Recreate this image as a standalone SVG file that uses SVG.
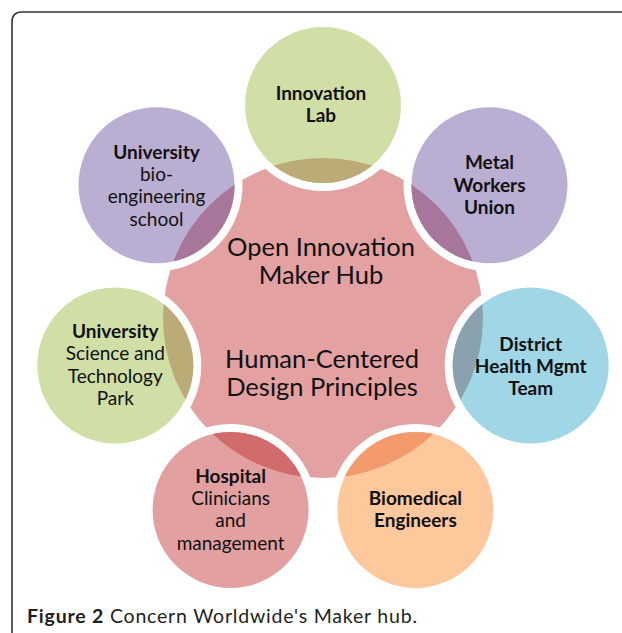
<svg xmlns="http://www.w3.org/2000/svg" width="622" height="633" viewBox="0 0 622 633">
<style>
  .ring { fill: none; stroke: #ffffff; stroke-width: 8; }
  .t { font-family: Lato, "Liberation Sans", sans-serif; font-size: 19px; fill: #111; text-anchor: middle; }
  .b { font-weight: bold; }
  .hubt { font-family: Lato, "Liberation Sans", sans-serif; font-size: 25.5px; fill: #111; text-anchor: middle; }
  .cap { font-family: Lato, "Liberation Sans", sans-serif; font-size: 19.5px; letter-spacing: 0.8px; fill: #231f20; }
</style>
<defs>
  <circle id="hubShape" cx="323" cy="318" r="160"/>
  <clipPath id="hubClip"><use href="#hubShape"/></clipPath>
</defs>
<rect width="622" height="633" fill="#ffffff"/>
<path d="M12,633 V22 Q12,12 22,12 H622" fill="none" stroke="#333" stroke-width="1.6"/>

<g id="hub">
  <use href="#hubShape" fill="#e3a2a1"/>
  <text class="hubt" x="321" y="256">Open Innovation</text>
  <text class="hubt" x="321" y="284">Maker Hub</text>
  <text class="hubt" x="322" y="368">Human-Centered</text>
  <text class="hubt" x="322" y="396">Design Principles</text>
</g>

<g id="innovation-lab">
  <circle class="ring" cx="323" cy="105" r="82"/>
  <circle cx="323" cy="105" r="78" fill="#cfdfa6"/>
  <circle cx="323" cy="105" r="78" fill="#bbab76" clip-path="url(#hubClip)"/>
  <text class="t b" x="321" y="100">Innovation</text>
  <text class="t b" x="321" y="122">Lab</text>
</g>

<g id="metal-workers-union">
  <circle class="ring" cx="489.5" cy="185.2" r="82"/>
  <circle cx="489.5" cy="185.2" r="78" fill="#bbaed3"/>
  <circle cx="489.5" cy="185.2" r="78" fill="#a8769a" clip-path="url(#hubClip)"/>
  <text class="t b" x="489.5" y="169">Metal</text>
  <text class="t b" x="489.5" y="192">Workers</text>
  <text class="t b" x="489.5" y="214">Union</text>
</g>

<g id="district-health">
  <circle class="ring" cx="530.7" cy="365.4" r="82"/>
  <circle cx="530.7" cy="365.4" r="78" fill="#a1d6e6"/>
  <circle cx="530.7" cy="365.4" r="78" fill="#8ba2ae" clip-path="url(#hubClip)"/>
  <text class="t b" x="530.7" y="351">District</text>
  <text class="t b" x="530.7" y="373">Health Mgmt</text>
  <text class="t b" x="530.7" y="395">Team</text>
</g>

<g id="biomedical-engineers">
  <circle class="ring" cx="415.4" cy="509.9" r="82"/>
  <circle cx="415.4" cy="509.9" r="78" fill="#fdc99c"/>
  <circle cx="415.4" cy="509.9" r="78" fill="#f29a6b" clip-path="url(#hubClip)"/>
  <text class="t b" x="415.4" y="505">Biomedical</text>
  <text class="t b" x="415.4" y="527">Engineers</text>
</g>

<g id="hospital">
  <circle class="ring" cx="230.6" cy="509.9" r="82"/>
  <circle cx="230.6" cy="509.9" r="78" fill="#e2a0a1"/>
  <circle cx="230.6" cy="509.9" r="78" fill="#d06a6b" clip-path="url(#hubClip)"/>
  <text class="t b" x="230.6" y="483">Hospital</text>
  <text class="t" x="230.6" y="505">Clinicians</text>
  <text class="t" x="230.6" y="527">and</text>
  <text class="t" x="230.6" y="550">management</text>
</g>

<g id="science-park">
  <circle class="ring" cx="115.3" cy="365.4" r="82"/>
  <circle cx="115.3" cy="365.4" r="78" fill="#cfdfa6"/>
  <circle cx="115.3" cy="365.4" r="78" fill="#bbab76" clip-path="url(#hubClip)"/>
  <text class="t b" x="115.3" y="338">University</text>
  <text class="t" x="115.3" y="360">Science and</text>
  <text class="t" x="115.3" y="383">Technology</text>
  <text class="t" x="115.3" y="405">Park</text>
</g>

<g id="bioengineering-school">
  <circle class="ring" cx="156.5" cy="185.2" r="82"/>
  <circle cx="156.5" cy="185.2" r="78" fill="#bbaed3"/>
  <circle cx="156.5" cy="185.2" r="78" fill="#a8769a" clip-path="url(#hubClip)"/>
  <text class="t b" x="156.5" y="159">University</text>
  <text class="t" x="156.5" y="181">bio-</text>
  <text class="t" x="156.5" y="203">engineering</text>
  <text class="t" x="156.5" y="226">school</text>
</g>

<g id="connectors"></g>

<text class="cap" x="27" y="623"><tspan font-weight="bold">Figure 2</tspan> Concern Worldwide's Maker hub.</text>
</svg>
